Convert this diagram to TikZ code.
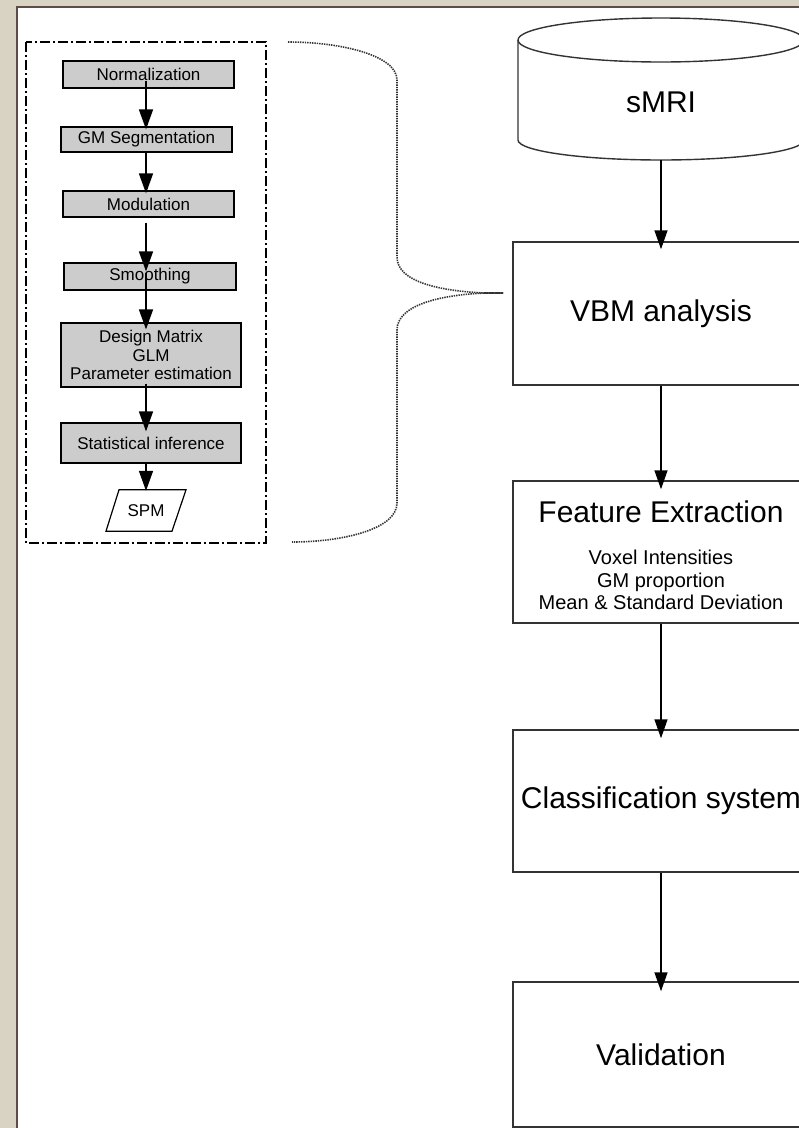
\documentclass[tikz,border=0pt]{standalone}
\usepackage{fontspec}
\setmainfont{Liberation Sans}
\usetikzlibrary{arrows.meta}
\definecolor{bgcol}{HTML}{D9D3C3}
\definecolor{panelline}{HTML}{5C4B47}
\begin{document}
\begin{tikzpicture}[x=1pt,y=-1pt,
  gbox/.style={draw=black, line width=1.2pt, fill=gray!40, inner sep=0pt, align=center,
    font=\fontsize{17}{18.5}\selectfont},
  bigbox/.style={draw=black!80, line width=1.5pt, fill=white, minimum width=296pt,
    minimum height=143pt, inner sep=0pt},
  bigtext/.style={font=\fontsize{30}{36}\selectfont},
  smalltext/.style={font=\fontsize{20}{22.5}\selectfont, align=center},
  larr/.style={line width=1.5pt, -{Triangle[length=20pt,width=14pt]}},
  rarr/.style={line width=1.5pt, -{Triangle[length=19pt,width=13pt]}},
  dashdotbox/.style={line width=1.2pt, dash pattern=on 10pt off 3pt on 2pt off 3pt},
  bracepath/.style={line width=1.6pt, black!80, dash pattern=on 1.4pt off 1pt},
  cyl/.style={line width=1.4pt, draw=black!80}]
\useasboundingbox (0,0) rectangle (799,1128);
\clip (0,0) rectangle (799,1128);
\fill[bgcol] (0,0) rectangle (799,1128);
\fill[white] (17,7) rectangle (830,1140);
\draw[panelline, line width=2pt] (17,1140) -- (17,7) -- (830,7);

% left sub-flow
\draw[dashdotbox] (26,42) rectangle (266,543);
\node[gbox, minimum width=171pt, minimum height=27pt] (norm) at (148.5,74.5) {Normalization};
\node[gbox, minimum width=171pt, minimum height=25pt] (gmseg) at (146.5,139.5) {GM Segmentation};
\node[gbox, minimum width=171pt, minimum height=26pt] (modul) at (148.5,204) {Modulation};
\node[gbox, minimum width=172pt, minimum height=27pt] (smooth) at (150,276.5) {Smoothing};
\node[gbox, minimum width=180pt, minimum height=64pt] (design) at (151,355) {Design Matrix\\GLM\\Parameter estimation};
\node[gbox, minimum width=180pt, minimum height=40pt] (statinf) at (151,443) {Statistical inference};
\node[inner sep=0pt, minimum width=80pt, minimum height=41pt, font=\fontsize{17}{18.5}\selectfont] (spm) at (146,510.5) {SPM};
\draw[line width=1.2pt] ([xshift=-27pt]spm.north) -- ([xshift=40pt]spm.north)
  -- ([xshift=26pt]spm.south) -- ([xshift=-40pt]spm.south) -- cycle;

\coordinate (laxis) at (146,0);
\draw[larr, shorten <=-8pt, shorten >=-3pt] (norm.south -| laxis) -- (gmseg.north -| laxis);
\draw[larr, shorten >=-3pt] (gmseg.south -| laxis) -- (modul.north -| laxis);
\draw[larr, shorten <=5pt, shorten >=-9pt] (modul.south -| laxis) -- (smooth.north -| laxis);
\draw[larr, shorten <=-18pt, shorten >=-7pt] (smooth.south -| laxis) -- (design.north -| laxis);
\draw[larr, shorten <=-4pt, shorten >=-9pt] (design.south -| laxis) -- (statinf.north -| laxis);
\draw[larr, shorten >=-1pt] (statinf.south -| laxis) -- (spm.north -| laxis);

% brace
\draw[bracepath] (288,42) .. controls (340,42) and (397,55) .. (397,80) -- (397,257)
  .. controls (397,282) and (440,291) .. (485,293) -- (503,293);
\draw[bracepath] (503,293) -- (485,293) .. controls (440,295) and (397,305) .. (397,330)
  -- (397,503) .. controls (397,530) and (340,542) .. (292,542);

% right main flow
\draw[cyl] (661,40) ellipse [x radius=143, y radius=22];
\draw[cyl] (518,40) -- (518,140) .. controls (518,151) and (582,160) .. (661,160)
  .. controls (740,160) and (804,151) .. (804,140) -- (804,40);
\node[bigtext] (smri) at (661,102) {sMRI};
\coordinate (smribot) at (661,160);

\node[bigbox, bigtext] (vbm) at (661,313.5) {VBM analysis};
\node[bigbox, minimum height=142pt] (fe) at (661,552) {};
\node[bigtext] (fetitle) at (661,512) {Feature Extraction};
\node[smalltext] (felist) at (661,580) {Voxel Intensities\\GM proportion\\Mean \& Standard Deviation};
\node[bigbox, bigtext, minimum height=142pt] (class) at (661,801) {Classification system};
\node[bigbox, bigtext, minimum height=145pt] (valid) at (661,1054.5) {Validation};

\draw[rarr, shorten >=-8pt] (smribot) -- (vbm.north);
\draw[rarr, shorten >=-9pt] (vbm.south) -- (fe.north);
\draw[rarr, shorten >=-9pt] (fe.south) -- (class.north);
\draw[rarr, shorten >=-10pt] (class.south) -- (valid.north);
\end{tikzpicture}
\end{document}
